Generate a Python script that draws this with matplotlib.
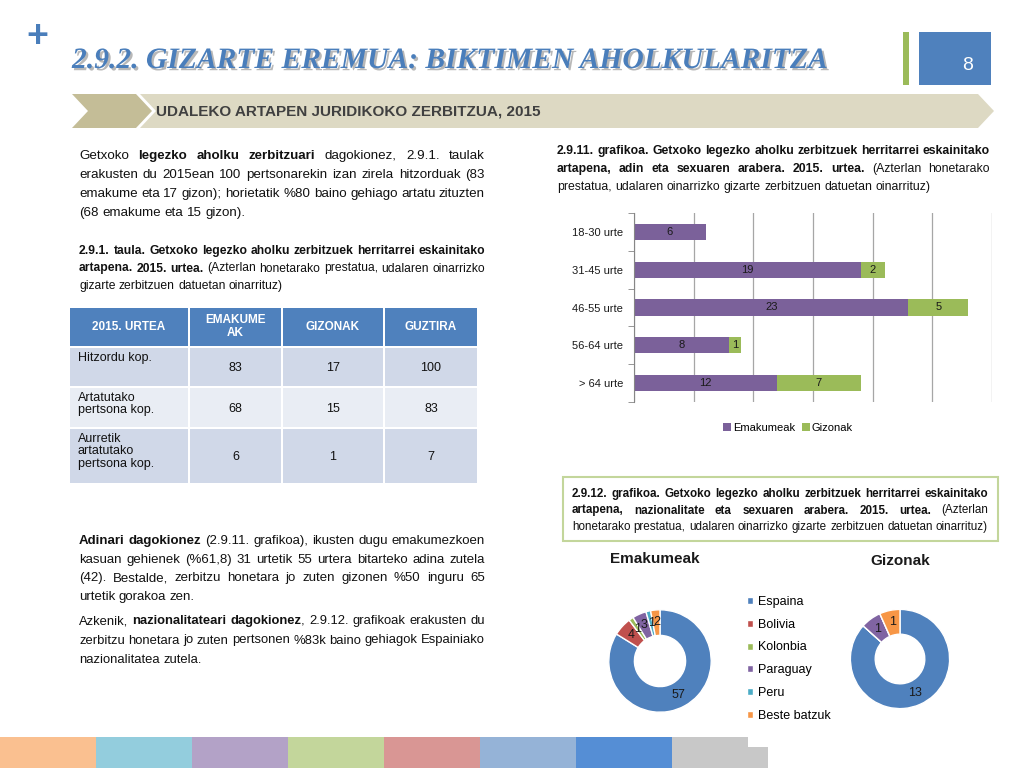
import matplotlib
matplotlib.use('Agg')

import numpy as np
import matplotlib.pyplot as plt
import matplotlib.patheffects as pe
from matplotlib.patches import Rectangle, Polygon

SANS = ['Liberation Sans', 'DejaVu Sans']
SERIF = ['Liberation Serif', 'DejaVu Serif']

# Bar chart: attention by age and sex
age_groups = ['18-30 urte', '31-45 urte', '46-55 urte', '56-64 urte', '> 64 urte']
women_by_age = [6, 19, 23, 8, 12]
men_by_age = [0, 2, 5, 1, 7]

# Donut charts: attention by nationality and sex
countries = ['Espaina', 'Bolivia', 'Kolonbia', 'Paraguay', 'Peru', 'Beste batzuk']
women_by_country = [57, 4, 1, 3, 1, 2]
men_by_country = [13, 0, 0, 1, 0, 1]
country_colors = ['#4f81bd', '#c0504d', '#9bbb59', '#8064a2', '#4bacc6', '#f79646']

# Table 2.9.1
table_header = ['2015. URTEA', 'EMAKUME\nAK', 'GIZONAK', 'GUZTIRA']
table_rows = ['Hitzordu kop.', 'Artatutako\npertsona kop.', 'Aurretik\nartatutako\npertsona kop.']
table_women = [83, 68, 6]
table_men = [17, 15, 1]
table_total = [100, 83, 7]

# Bottom colour strip
strip_colors = ['#fac090', '#93cddd', '#b3a2c7', '#c3d69b', '#d99694', '#95b3d7', '#558ed5']

# Texts (** marks bold runs)
para_intro = [
    'Getxoko **legezko aholku zerbitzuari** dagokionez, 2.9.1. taulak',
    'erakusten du 2015ean 100 pertsonarekin izan zirela hitzorduak (83',
    'emakume eta 17 gizon); horietatik %80 baino gehiago artatu zituzten',
    '(68 emakume eta 15 gizon).',
]
caption_table = [
    '**2.9.1. taula. Getxoko legezko aholku zerbitzuek herritarrei eskainitako**',
    '**artapena. 2015. urtea.** (Azterlan honetarako prestatua, udalaren oinarrizko',
    'gizarte zerbitzuen datuetan oinarrituz)',
]
para_age = [
    '**Adinari dagokionez** (2.9.11. grafikoa), ikusten dugu emakumezkoen',
    'kasuan gehienek (%61,8) 31 urtetik 55 urtera bitarteko adina zutela',
    '(42). Bestalde, zerbitzu honetara jo zuten gizonen %50 inguru 65',
    'urtetik gorakoa zen.',
]
para_nat = [
    'Azkenik, **nazionalitateari dagokionez**, 2.9.12. grafikoak erakusten du',
    'zerbitzu honetara jo zuten pertsonen %83k baino gehiagok Espainiako',
    'nazionalitatea zutela.',
]
caption_bar = [
    '**2.9.11. grafikoa. Getxoko legezko aholku zerbitzuek herritarrei eskainitako**',
    '**artapena, adin eta sexuaren arabera. 2015. urtea.** (Azterlan honetarako',
    'prestatua, udalaren oinarrizko gizarte zerbitzuen datuetan oinarrituz)',
]
caption_pie = [
    '**2.9.12. grafikoa. Getxoko legezko aholku zerbitzuek herritarrei eskainitako**',
    '**artapena, nazionalitate eta sexuaren arabera. 2015. urtea.** (Azterlan',
    'honetarako prestatua, udalaren oinarrizko gizarte zerbitzuen datuetan oinarrituz)',
]


def parse_words(line):
    # Split a marked-up line into words, each a list of (text, bold) runs
    words, cur = [], []
    for i, part in enumerate(line.split('**')):
        bold = i % 2 == 1
        for j, chunk in enumerate(part.split(' ')):
            if j > 0 and cur:
                words.append(cur)
                cur = []
            if chunk:
                cur.append((chunk, bold))
    if cur:
        words.append(cur)
    return words


def draw_paragraph(ax, renderer, lines, x0, y0, width, step, size,
                   justify_last=False, min_gap=3.2):
    # Justified text block, shrunk if the lines do not fit the column
    placed = []
    for n, line in enumerate(lines):
        y = y0 + n * step
        row = []
        for word in parse_words(line):
            row.append([ax.text(0, y, txt, fontsize=size, family=SANS,
                                fontweight='bold' if bold else 'normal',
                                va='baseline', ha='left', color='#111111')
                        for txt, bold in word])
        placed.append(row)

    def widths():
        return [[[t.get_window_extent(renderer).width for t in runs] for runs in row]
                for row in placed]

    W = widths()
    need = max(sum(sum(w) for w in row) + (len(row) - 1) * min_gap for row in W)
    if need > width:
        size = size * width / need * 0.99
        for row in placed:
            for runs in row:
                for t in runs:
                    t.set_fontsize(size)
        W = widths()

    space = size * 100 / 72 * 0.278
    for n, (row, wrow) in enumerate(zip(placed, W)):
        total = sum(sum(w) for w in wrow)
        last = n == len(placed) - 1
        if len(row) > 1 and (not last or justify_last):
            gap = (width - total) / (len(row) - 1)
        else:
            gap = space
        x = x0
        for runs, wr in zip(row, wrow):
            for t, w in zip(runs, wr):
                t.set_x(x)
                x += w
            x += gap


fig = plt.figure(figsize=(10.24, 7.68), dpi=100)
page = fig.add_axes([0, 0, 1, 1])
page.set_xlim(0, 1024)
page.set_ylim(768, 0)
page.axis('off')
renderer = fig.canvas.get_renderer()

# Header: plus sign, title with shadow, page number box
page.text(37, 37, '+', fontsize=27, fontweight='bold', color='#4a7ebb',
          ha='center', va='center', family=SANS)
title = page.text(72, 68, '2.9.2. GIZARTE EREMUA: BIKTIMEN AHOLKULARITZA', fontsize=24,
                  family=SERIF, fontweight='bold', style='italic', color='#4a7ebb',
                  va='baseline', ha='left',
                  path_effects=[pe.withSimplePatchShadow(offset=(1.6, -1.6),
                                                         shadow_rgbFace='#9a9a9a', alpha=0.7)])
tw = title.get_window_extent(renderer).width
title.set_fontsize(24 * (829 - 72) / tw)

page.add_patch(Rectangle((903, 32), 6, 53, facecolor='#9bbb59', edgecolor='none'))
page.add_patch(Rectangle((919, 32), 72, 53, facecolor='#4f81bd', edgecolor='none'))
page.text(968, 65, '8', fontsize=14, color='white', ha='center', va='center', family=SANS)

# Section banner
page.add_patch(Polygon([(140, 94), (978, 94), (994, 111), (978, 128), (140, 128), (156, 111)],
                       facecolor='#ddd9c3', edgecolor='none'))
page.add_patch(Polygon([(72, 94), (136, 94), (152, 111), (136, 128), (72, 128), (88, 111)],
                       facecolor='#c4bd97', edgecolor='none'))
page.text(156, 111, 'UDALEKO ARTAPEN JURIDIKOKO ZERBITZUA, 2015', fontsize=11,
          fontweight='bold', color='#404040', va='center', family=SANS)

# Left column texts
draw_paragraph(page, renderer, para_intro, 79, 159, 406, 19, 10.5)
draw_paragraph(page, renderer, caption_table, 79, 254, 406, 17.5, 9.5)
draw_paragraph(page, renderer, para_age, 79, 544, 406, 18.7, 10.5)
draw_paragraph(page, renderer, para_nat, 79, 624, 406, 19.5, 10.5)

# Table 2.9.1
col_edges = [69, 189, 282, 384, 478]
row_edges = [308, 347, 387, 428, 484]
row_fill = ['#d0d8e8', '#e9edf4', '#d0d8e8']
for c in range(4):
    x0, x1 = col_edges[c] + 0.8, col_edges[c + 1] - 0.8
    page.add_patch(Rectangle((x0, row_edges[0]), x1 - x0, row_edges[1] - row_edges[0] - 1.5,
                             facecolor='#4f81bd', edgecolor='none'))
    page.text((x0 + x1) / 2, (row_edges[0] + row_edges[1]) / 2 - 1, table_header[c],
              fontsize=8.5, fontweight='bold', color='white', ha='center', va='center',
              family=SANS, linespacing=1.05)
    for r in range(3):
        y0, y1 = row_edges[r + 1] + 0.8, row_edges[r + 2] - 0.8
        page.add_patch(Rectangle((x0, y0), x1 - x0, y1 - y0, facecolor=row_fill[r], edgecolor='none'))
for r in range(3):
    y0, y1 = row_edges[r + 1], row_edges[r + 2]
    page.text(78, y0 + 5, table_rows[r], fontsize=9, ha='left', va='top', family=SANS,
              color='#111111', linespacing=1.05)
    for c, vals in enumerate([table_women, table_men, table_total], start=1):
        page.text((col_edges[c] + col_edges[c + 1]) / 2, (y0 + y1) / 2 + 1, str(vals[r]),
                  fontsize=9, ha='center', va='center', family=SANS, color='#111111')

# Right column captions
draw_paragraph(page, renderer, caption_bar, 557, 154, 433, 18, 9.5)
page.add_patch(Rectangle((563, 477), 435, 64, facecolor='white', edgecolor='#c3d69b', lw=1.5))
draw_paragraph(page, renderer, caption_pie, 572, 497, 416, 16.5, 9.5, justify_last=True)

# Bottom strip
for i, col in enumerate(strip_colors):
    page.add_patch(Rectangle((i * 96, 737), 96, 31, facecolor=col, edgecolor='none'))
page.add_patch(Rectangle((672, 737), 76, 31, facecolor='#c8c8c8', edgecolor='none'))
page.add_patch(Rectangle((672, 747), 96, 21, facecolor='#c8c8c8', edgecolor='none'))

# Stacked horizontal bar chart
ax = fig.add_axes([634 / 1024, 1 - 402 / 768, (992 - 634) / 1024, (402 - 213) / 768])
ypos = list(range(len(age_groups)))
b1 = ax.barh(ypos, women_by_age, height=0.43, color='#7b619a', label='Emakumeak')
b2 = ax.barh(ypos, men_by_age, left=women_by_age, height=0.43, color='#9bbb59', label='Gizonak')
ax.bar_label(b1, labels=[str(v) if v else '' for v in women_by_age], label_type='center',
             fontsize=8, color='#1a1a1a', family=SANS)
ax.bar_label(b2, labels=[str(v) if v else '' for v in men_by_age], label_type='center',
             fontsize=8, color='#1a1a1a', family=SANS)
ax.set_xlim(0, 30)
ax.set_ylim(len(age_groups) - 0.5, -0.5)
ax.set_xticks(range(0, 31, 5))
ax.set_xticklabels([])
ax.tick_params(axis='x', length=0)
ax.grid(axis='x', color='#a6a6a6', lw=0.9)
ax.set_axisbelow(True)
ax.set_yticks(ypos)
ax.set_yticklabels(age_groups, fontsize=8, family=SANS, color='#1a1a1a')
ax.set_yticks([p - 0.5 for p in ypos] + [len(ypos) - 0.5], minor=True)
ax.tick_params(axis='y', which='major', length=0, pad=8)
ax.tick_params(axis='y', which='minor', length=4, color='#868686')
for side in ['top', 'right', 'bottom']:
    ax.spines[side].set_visible(False)
ax.spines['left'].set_color('#868686')
fig.legend(handles=[b1, b2], loc='center', bbox_to_anchor=(788 / 1024, 1 - 428 / 768), ncol=2,
           frameon=False, prop={'family': SANS, 'size': 8}, handlelength=0.7,
           handleheight=0.7, handletextpad=0.2, columnspacing=0.6)


def donut(rect, values, title, tx, ty):
    pax = fig.add_axes(rect)
    wedges, _ = pax.pie(values, colors=country_colors, startangle=90, counterclock=False,
                        radius=1, wedgeprops=dict(width=0.5, edgecolor='white', linewidth=1))
    pax.set_aspect('equal')
    for w, v in zip(wedges, values):
        if v == 0:
            continue
        ang = np.deg2rad((w.theta1 + w.theta2) / 2)
        pax.text(0.76 * np.cos(ang), 0.76 * np.sin(ang), str(v), ha='center', va='center',
                 fontsize=9, color='#1a1a1a', family=SANS)
    page.text(tx, ty, title, fontsize=11, fontweight='bold', ha='center', va='center',
              family=SANS, color='#1a1a1a')
    return wedges


w_women = donut([596 / 1024, 1 - 725 / 768, 128 / 1024, 128 / 768], women_by_country,
                'Emakumeak', 655, 559)
donut([838 / 1024, 1 - 721 / 768, 124 / 1024, 124 / 768], men_by_country, 'Gizonak', 900, 561)
fig.legend(handles=w_women, labels=countries, loc='upper left',
           bbox_to_anchor=(742 / 1024, 1 - 591 / 768), frameon=False,
           prop={'family': SANS, 'size': 9}, handlelength=0.5, handleheight=0.5,
           handletextpad=0.4, labelspacing=0.86, borderaxespad=0)

fig.savefig('out.png', dpi=100)
